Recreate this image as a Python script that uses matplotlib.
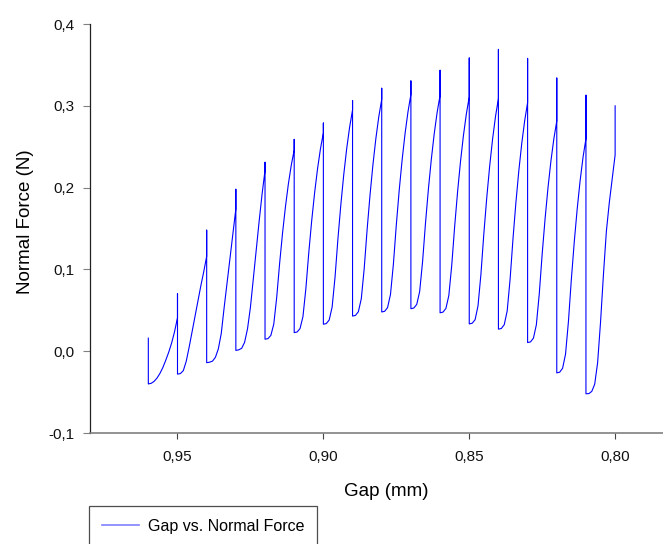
import matplotlib
matplotlib.use("Agg")
import matplotlib.pyplot as plt
from matplotlib.ticker import FuncFormatter, MultipleLocator

plt.rcParams['font.family'] = ['Liberation Sans', 'DejaVu Sans']

# gap at each compression step (mm)
step_gap = [0.96, 0.95, 0.94, 0.93, 0.92, 0.91, 0.90, 0.89, 0.88,
            0.87, 0.86, 0.85, 0.84, 0.83, 0.82, 0.81, 0.80]
# force peak right after each step (N)
peak_force = [0.016, 0.0705, 0.148, 0.198, 0.231, 0.259, 0.279, 0.3065, 0.3215,
              0.3305, 0.3435, 0.3585, 0.369, 0.358, 0.334, 0.313, 0.300]
# force after relaxation at constant gap (N)
relaxed_force = [-0.040, -0.028, -0.014, 0.001, 0.0147, 0.0228, 0.033, 0.043, 0.048,
                 0.052, 0.047, 0.0334, 0.027, 0.0106, -0.0265, -0.052]
# force during the ramp to the next gap, every 0.001 mm
ramp_force = [
    [-0.040, -0.0392, -0.0368, -0.0327, -0.027, -0.0198, -0.0108, -0.0011, 0.0102, 0.024, 0.041],
    [-0.028, -0.0273, -0.0237, -0.0122, 0.0051, 0.0238, 0.0426, 0.0613, 0.080, 0.0973, 0.116],
    [-0.014, -0.0134, -0.0121, -0.0074, 0.0029, 0.0217, 0.0537, 0.0838, 0.1138, 0.1439, 0.174],
    [0.001, 0.0017, 0.0036, 0.0109, 0.0274, 0.0538, 0.089, 0.1242, 0.1594, 0.1924, 0.221],
    [0.0147, 0.0154, 0.0193, 0.0332, 0.0656, 0.1072, 0.1442, 0.1766, 0.2044, 0.2275, 0.246],
    [0.0228, 0.0235, 0.0277, 0.0423, 0.0765, 0.1205, 0.1596, 0.1937, 0.223, 0.2475, 0.267],
    [0.033, 0.0338, 0.0382, 0.054, 0.0906, 0.1378, 0.1797, 0.2164, 0.2478, 0.274, 0.295],
    [0.043, 0.0438, 0.0483, 0.0642, 0.1013, 0.149, 0.1914, 0.2285, 0.2603, 0.2868, 0.308],
    [0.048, 0.0488, 0.0533, 0.0693, 0.1065, 0.1544, 0.197, 0.2342, 0.2661, 0.2927, 0.314],
    [0.052, 0.0528, 0.0572, 0.0729, 0.1094, 0.1564, 0.1982, 0.2347, 0.266, 0.2921, 0.313],
    [0.047, 0.0478, 0.0523, 0.0681, 0.1051, 0.1526, 0.1948, 0.2318, 0.2635, 0.2899, 0.311],
    [0.0334, 0.0342, 0.0385, 0.0554, 0.094, 0.1436, 0.1877, 0.2263, 0.2594, 0.287, 0.309],
    [0.027, 0.0278, 0.0325, 0.0492, 0.0879, 0.1378, 0.1821, 0.2209, 0.2541, 0.2818, 0.304],
    [0.0106, 0.0114, 0.0160, 0.0323, 0.0702, 0.119, 0.1623, 0.2002, 0.2327, 0.2598, 0.2815],
    [-0.0265, -0.0256, -0.0208, -0.0036, 0.0365, 0.0881, 0.1339, 0.174, 0.2084, 0.2371, 0.26],
    [-0.052, -0.0518, -0.0491, -0.0403, -0.014, 0.0356, 0.094, 0.1466, 0.1816, 0.2108, 0.24],
]

# build the trace: spike up, relax down, ramp to next gap
gap, force = [], []
for k, g in enumerate(step_gap):
    if k > 0:
        gap.append(g)
        force.append(ramp_force[k - 1][-1])
    gap.append(g)
    force.append(peak_force[k])
    if k < len(ramp_force):
        for j, f in enumerate(ramp_force[k]):
            gap.append(round(g - 0.001 * j, 4))
            force.append(f)

fig = plt.figure(figsize=(6.63, 5.44), dpi=100)
ax = fig.add_axes([0.1357, 0.204, 0.8801, 0.7518])

ax.plot(gap, force, color='#0000ff', lw=0.8, label='Gap vs. Normal Force')

ax.set_xlim(0.98, 0.78)
ax.set_ylim(-0.1, 0.4)
ax.xaxis.set_major_locator(MultipleLocator(0.05))
ax.yaxis.set_major_locator(MultipleLocator(0.1))
ax.xaxis.set_major_formatter(FuncFormatter(lambda v, p: f"{v:.2f}".replace('.', ',')))
ax.yaxis.set_major_formatter(FuncFormatter(lambda v, p: f"{v:.1f}".replace('.', ',')))

for s in ('top', 'right'):
    ax.spines[s].set_visible(False)
ax.spines['left'].set_color('#222222')
ax.spines['bottom'].set_color('#808080')
ax.spines['left'].set_linewidth(0.9)
ax.spines['bottom'].set_linewidth(1.2)
ax.tick_params(axis='y', direction='out', length=5, width=0.8, color='#808080',
               labelsize=11, pad=6, labelcolor='#111111')
ax.tick_params(axis='x', direction='out', length=4.3, width=0.8, color='#444444',
               labelsize=11, pad=8, labelcolor='#111111')

ax.set_xlabel('Gap (mm)', fontsize=13.5, va='center')
ax.set_ylabel('Normal Force (N)', fontsize=13.5, va='center')
ax.xaxis.set_label_coords(0.508, -0.1435)
ax.yaxis.set_label_coords(-0.110, 0.516)

leg = fig.legend(loc='upper left', bbox_to_anchor=(0.1347, 0.0699),
                 fontsize=11.5, frameon=True, fancybox=False, borderpad=0.8,
                 handlelength=2.3, handletextpad=0.55, borderaxespad=0)
leg.get_frame().set_edgecolor('#222222')
leg.get_frame().set_linewidth(0.9)
for line in leg.get_lines():
    line.set_color('#8080ff')
    line.set_linewidth(1.2)

fig.savefig('out.png', dpi=100)
